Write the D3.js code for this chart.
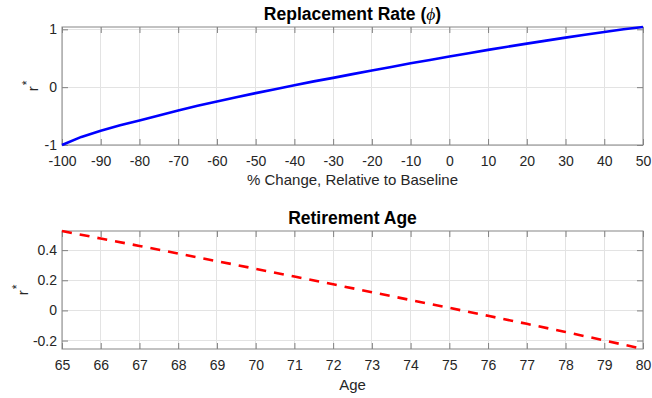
<!DOCTYPE html>
<html>
<head>
<meta charset="utf-8">
<script src="https://cdn.jsdelivr.net/npm/d3@7/dist/d3.min.js"></script>
<style>
  html, body { margin: 0; padding: 0; background: #fff; }
  svg { display: block; font-family: "Liberation Sans", Arial, Helvetica, sans-serif; }
</style>
</head>
<body>
<svg id="chart" width="652" height="398"></svg>
<script>
// Replacement rate: % change relative to baseline vs. r*
const rateChange = [-100, -95, -90, -85, -80, -75, -70, -65, -60, -55, -50, -45, -40, -35, -30,
                    -25, -20, -15, -10, -5, 0, 5, 10, 15, 20, 25, 30, 35, 40, 45, 50];
const rateR = [-1.00, -0.86, -0.753, -0.66, -0.575, -0.49, -0.402, -0.322, -0.247, -0.175, -0.103,
               -0.035, 0.034, 0.100, 0.160, 0.225, 0.287, 0.350, 0.414, 0.470, 0.529, 0.587,
               0.644, 0.700, 0.753, 0.805, 0.856, 0.905, 0.954, 1.000, 1.040];
const rateXTicks = [-100, -90, -80, -70, -60, -50, -40, -30, -20, -10, 0, 10, 20, 30, 40, 50];
const rateYTicks = [-1, 0, 1];

// Retirement age vs. r*
const ages = [65, 66, 67, 68, 69, 70, 71, 72, 73, 74, 75, 76, 77, 78, 79, 80];
const ageR = [0.527, 0.477, 0.428, 0.377, 0.327, 0.276, 0.225, 0.173, 0.121, 0.069, 0.017,
              -0.036, -0.089, -0.143, -0.199, -0.256];
const ageXTicks = [65, 66, 67, 68, 69, 70, 71, 72, 73, 74, 75, 76, 77, 78, 79, 80];
const ageYTicks = [-0.2, 0, 0.2, 0.4];

const svg = d3.select("#chart");
const TICK = 6;
// plain hyphen for negative numbers
const hy = f => d => f(d).replace("\u2212", "-");

function panel(opts) {
  const { left, right, top, bottom, xs, ys, xDomain, yDomain, xTicks, yTicks,
          yFmt, color, dash, title, xLabel, yLabelX, titleY, xLabelY } = opts;
  const x = d3.scaleLinear().domain(xDomain).range([left, right]);
  const y = d3.scaleLinear().domain(yDomain).range([bottom, top]);
  const g = svg.append("g");

  // grid
  g.append("g").selectAll("line").data(xTicks).join("line")
    .attr("x1", d => x(d)).attr("x2", d => x(d)).attr("y1", top).attr("y2", bottom)
    .attr("stroke", "#e3e3e3").attr("stroke-width", 1).attr("shape-rendering", "crispEdges");
  g.append("g").selectAll("line").data(yTicks).join("line")
    .attr("y1", d => y(d)).attr("y2", d => y(d)).attr("x1", left).attr("x2", right)
    .attr("stroke", "#e3e3e3").attr("stroke-width", 1).attr("shape-rendering", "crispEdges");

  // axes with inward ticks on all four sides
  const ax = (gen, tr) => g.append("g").attr("transform", tr).call(gen)
    .call(s => s.select(".domain").remove());
  const bottomAx = ax(d3.axisBottom(x).tickValues(xTicks).tickSize(-TICK)
    .tickFormat(hy(d3.format("d"))), `translate(0,${bottom})`);
  ax(d3.axisTop(x).tickValues(xTicks).tickSize(-TICK).tickFormat(""), `translate(0,${top})`);
  ax(d3.axisLeft(y).tickValues(yTicks).tickSize(-TICK).tickPadding(5)
    .tickFormat(hy(yFmt)), `translate(${left},0)`);
  ax(d3.axisRight(y).tickValues(yTicks).tickSize(-TICK).tickFormat(""), `translate(${right},0)`);
  g.selectAll(".tick line").attr("stroke", "#808080");
  g.selectAll(".tick text").attr("fill", "#262626").style("font-size", "14px")
    .style("font-family", "'Liberation Sans', Arial, sans-serif");
  bottomAx.selectAll(".tick text").attr("dy", "0.35em").attr("y", 16);

  // box
  g.append("rect").attr("x", left).attr("y", top).attr("width", right - left).attr("height", bottom - top)
    .attr("fill", "none").attr("stroke", "#858585").attr("stroke-width", 1);

  // data line
  const line = d3.line().x((d, i) => x(xs[i])).y(d => y(d));
  g.append("path").datum(ys).attr("d", line)
    .attr("fill", "none").attr("stroke", color).attr("stroke-width", 2.6)
    .attr("stroke-dasharray", dash || null).attr("stroke-linejoin", "round");

  // title
  const t = g.append("text").attr("x", (left + right) / 2).attr("y", titleY)
    .attr("text-anchor", "middle").style("font-size", "17.5px").style("font-weight", "bold").attr("fill", "#000");
  title(t);

  // x label
  g.append("text").attr("x", (left + right) / 2).attr("y", xLabelY).attr("text-anchor", "middle")
    .style("font-size", "15px").attr("fill", "#262626").text(xLabel);

  // y label r*
  const yl = g.append("text")
    .attr("transform", `translate(${yLabelX},${(top + bottom) / 2}) rotate(-90)`)
    .attr("text-anchor", "middle").style("font-size", "15px").attr("fill", "#262626");
  yl.append("tspan").text("r");
  yl.append("tspan").attr("dy", -7).attr("dx", 1).style("font-size", "12px").text("*");
}

panel({
  left: 62, right: 643, top: 27, bottom: 145,
  xs: rateChange, ys: rateR, xDomain: [-100, 50], yDomain: [-1, 1.04],
  xTicks: rateXTicks, yTicks: rateYTicks, yFmt: d3.format("d"),
  color: "#0000ff", dash: null,
  title: t => {
    t.append("tspan").text("Replacement Rate (");
    t.append("tspan").style("font-weight", "normal").style("font-style", "italic")
      .style("font-family", "'Liberation Serif', 'DejaVu Serif', serif").text("\u03D5");
    t.append("tspan").text(")");
  },
  xLabel: "% Change, Relative to Baseline", yLabelX: 38, titleY: 20, xLabelY: 185
});

panel({
  left: 62, right: 643, top: 231, bottom: 349,
  xs: ages, ys: ageR, xDomain: [65, 80], yDomain: [-0.256, 0.527],
  xTicks: ageXTicks, yTicks: ageYTicks, yFmt: d => d === 0 ? "0" : d3.format(".1f")(d),
  color: "#ff0000", dash: "10,8",
  title: t => t.text("Retirement Age"),
  xLabel: "Age", yLabelX: 28, titleY: 224, xLabelY: 390
});
</script>
</body>
</html>
